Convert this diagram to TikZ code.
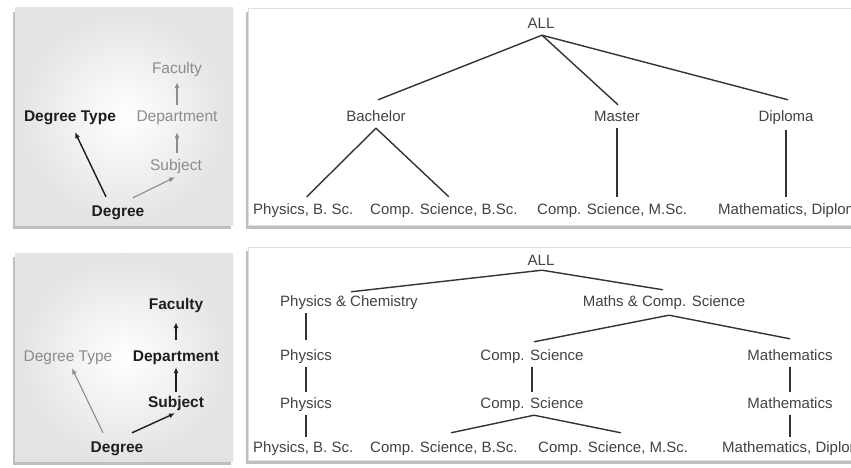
\documentclass[tikz,border=0pt]{standalone}
\usepackage{fontspec}
\setmainfont{Liberation Sans}
\usetikzlibrary{shadows,calc,arrows.meta}
\definecolor{treetext}{HTML}{424242}
\definecolor{treeline}{HTML}{333333}
\definecolor{weakc}{HTML}{8C8C8C}
\definecolor{strongc}{HTML}{1E1E1E}
\definecolor{panelout}{HTML}{E3E3E3}
\begin{document}
\begin{tikzpicture}[x=1pt,y=-1pt,
  tn/.style={font=\fontsize{15}{17}\selectfont, text=treetext, inner sep=0pt, text height=10pt, text depth=3pt},
  ln/.style={inner sep=0pt, text height=11pt, text depth=3pt},
  strongn/.style={ln, font=\fontsize{15.5}{17}\selectfont\bfseries, text=strongc},
  weakn/.style={ln, font=\fontsize{15.5}{17}\selectfont, text=weakc},
  tedge/.style={draw=treeline, line width=1.4pt},
  sarr/.style={draw=strongc, line width=1.4pt, -{Latex[length=6pt,width=5pt]}},
  warr/.style={draw=weakc, line width=1.1pt, -{Latex[length=6pt,width=5pt]}},
  lpanel/.style={shading=radial, inner color=white, outer color=panelout,
    drop shadow={shadow xshift=-2pt, shadow yshift=-4pt, opacity=0.5}},
  rpanel/.style={fill=white, draw=gray!25,
    drop shadow={shadow xshift=-2pt, shadow yshift=-4pt, opacity=0.5}}
]
\fill[white] (0,0) rectangle (851,468);
\clip (0,0) rectangle (851,468);

% panels
\path[lpanel] (15,8) rectangle (233,225);
\path[rpanel] (248,8) rectangle (870,225);
\path[lpanel] (15,253) rectangle (233,461);
\path[rpanel] (248,247) rectangle (870,460);

% ---------- top-left schema ----------
\node[weakn]   (fac1) at (177,70)  {Faculty};
\node[strongn] (dt1)  at (70,118)  {Degree Type};
\node[weakn]   (dep1) at (177,118) {Department};
\node[weakn]   (sub1) at (176,167) {Subject};
\node[strongn] (deg1) at (118,212) {Degree};
\draw[sarr] ($(deg1.north)+(-12,-8)$) -- ($(dt1.south)+(5,7)$);
\draw[warr] ($(deg1.north)+(15,-7)$) -- ($(sub1.south)+(-1,3)$);
\draw[warr] ($(sub1.north)+(1,-7)$) -- ($(dep1.south)+(0,7)$);
\draw[warr] ($(dep1.north)+(0,-6)$) -- ($(fac1.south)+(0,5)$);

% ---------- bottom-left schema ----------
\node[strongn] (fac2) at (176,305) {Faculty};
\node[weakn]   (dt2)  at (68,357)  {Degree Type};
\node[strongn] (dep2) at (176,357) {Department};
\node[strongn] (sub2) at (176,403) {Subject};
\node[strongn] (deg2) at (117,448) {Degree};
\draw[warr] ($(deg2.north)+(-14,-8)$) -- ($(dt2.south)+(4,4)$);
\draw[sarr] ($(deg2.north)+(15,-8)$) -- ($(sub2.south)+(-1,3)$);
\draw[sarr] ($(sub2.north)+(0,-4)$) -- ($(dep2.south)+(0,3)$);
\draw[sarr] ($(dep2.north)+(0,-10)$) -- ($(fac2.south)+(0,10)$);

% ---------- top-right tree ----------
\node[tn] (all1) at (541,25) {ALL};
\node[tn] (bach) at (376,118) {Bachelor};
\node[tn] (mast) at (617,118) {Master};
\node[tn] (dipl) at (786,118) {Diploma};
\node[tn, anchor=west] (pb1) at (253,211) {Physics, B. Sc.};
\node[tn, anchor=west] (cb1) at (370,211) {Comp. Science, B.Sc.};
\node[tn, anchor=west] (cm1) at (537,211) {Comp. Science, M.Sc.};
\node[tn, anchor=west] (md1) at (718,211) {Mathematics, Diploma};
\draw[tedge] ($(all1.south)+(1,3.5)$) -- ($(bach.north)+(2,-11.5)$);
\draw[tedge] ($(all1.south)+(1,3.5)$) -- ($(mast.north)+(1,-6.5)$);
\draw[tedge] ($(all1.south)+(1,3.5)$) -- ($(dipl.north)+(2,-11.5)$);
\draw[tedge] ($(bach.south)+(0,3.5)$) -- ($(pb1.north)+(3.5,-7.5)$);
\draw[tedge] ($(bach.south)+(0,3.5)$) -- ($(cb1.north)+(5,-7.5)$);
\draw[tedge] ($(mast.south)+(0,3.5)$) -- ($(mast.south |- cm1.north)+(0,-7.5)$);
\draw[tedge] ($(dipl.south)+(0,5.5)$) -- ($(dipl.south |- md1.north)+(0,-7.5)$);

% ---------- bottom-right tree ----------
\node[tn] (all2) at (541,262) {ALL};
\node[tn] (pc)   at (349,303) {Physics \& Chemistry};
\node[tn] (mc)   at (664,303) {Maths \& Comp. Science};
\node[tn] (ph2)  at (306,357) {Physics};
\node[tn] (cs2)  at (532,357) {Comp. Science};
\node[tn] (ma2)  at (790,357) {Mathematics};
\node[tn] (ph3)  at (306,405) {Physics};
\node[tn] (cs3)  at (532,405) {Comp. Science};
\node[tn] (ma3)  at (790,405) {Mathematics};
\node[tn, anchor=west] (pb2) at (253,449) {Physics, B. Sc.};
\node[tn, anchor=west] (cb2) at (370,449) {Comp. Science, B.Sc.};
\node[tn, anchor=west] (cm2) at (538,449) {Comp. Science, M.Sc.};
\node[tn, anchor=west] (md2) at (722,449) {Mathematics, Diploma};
\draw[tedge] ($(all2.south)+(1,1.5)$) -- ($(pc.north)+(2,-4.5)$);
\draw[tedge] ($(all2.south)+(1,1.5)$) -- ($(mc.north)+(-1,-6.5)$);
\draw[tedge] ($(mc.south)+(5,5.5)$) -- ($(cs2.north)+(2,-8.5)$);
\draw[tedge] ($(mc.south)+(5,5.5)$) -- ($(ma2.north)+(0,-11.5)$);
\draw[tedge] ($(pc.south -| ph2.north)+(0,3.5)$) -- ($(ph2.north)+(0,-10.5)$);
\draw[tedge] ($(ph2.south)+(0,3.5)$) -- ($(ph3.north)+(0,-6.5)$);
\draw[tedge] ($(ph3.south)+(0,3.5)$) -- ($(ph3.south |- pb2.north)+(0,-5.5)$);
\draw[tedge] ($(cs2.south)+(0,3.5)$) -- ($(cs3.north)+(0,-6.5)$);
\draw[tedge] ($(cs3.south)+(2,3.5)$) -- ($(cb2.north)+(7.1,-9.5)$);
\draw[tedge] ($(cs3.south)+(2,3.5)$) -- ($(cm2.north)+(7.8,-9.5)$);
\draw[tedge] ($(ma2.south)+(0,3.5)$) -- ($(ma3.north)+(0,-6.5)$);
\draw[tedge] ($(ma3.south)+(0,3.5)$) -- ($(ma3.south |- md2.north)+(0,-5.5)$);
\end{tikzpicture}
\end{document}
